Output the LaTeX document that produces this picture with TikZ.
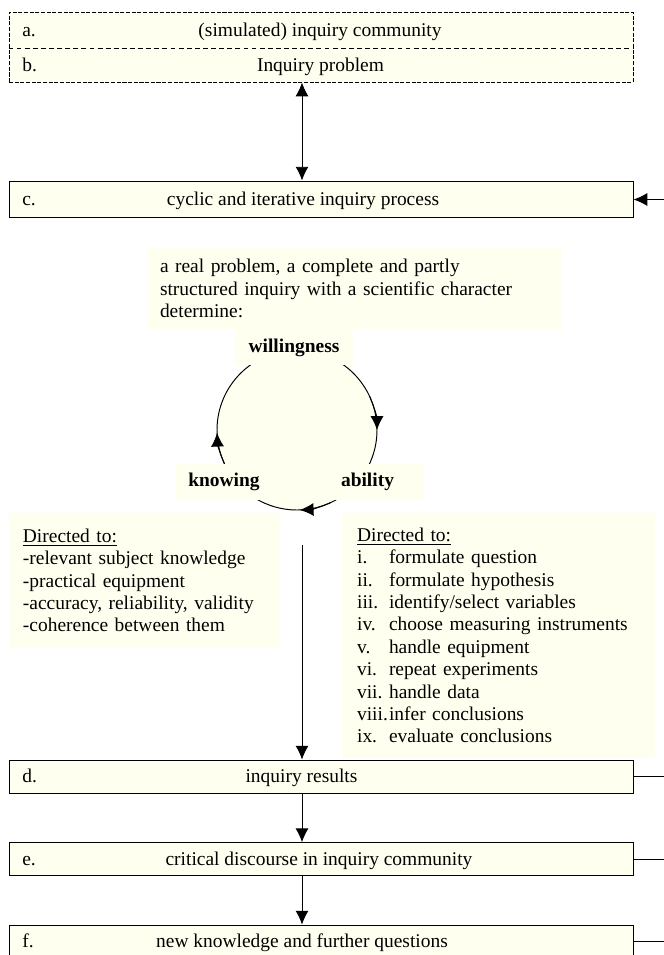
\documentclass[tikz,border=0pt]{standalone}
\usepackage{fontspec}
\setmainfont{Liberation Serif}
\usetikzlibrary{arrows.meta}
\definecolor{ivory}{RGB}{255,255,240}
\newcommand{\diagfont}{\fontsize{12pt}{13.8pt}\selectfont}
\newcommand{\rnum}[1]{\makebox[19.7pt][l]{#1}}

\begin{document}
\begin{tikzpicture}[
        x=0.617pt, y=-0.617pt,
        every node/.style={font=\diagfont},
        stagebox/.style={rectangle, draw=black, fill=ivory, line width=0.6pt, minimum width=385pt, minimum height=20.5pt, inner sep=0pt},
        steplabel/.style={anchor=base west, inner sep=0pt},
        steptext/.style={anchor=base, inner sep=0pt},
        notebox/.style={rectangle, fill=ivory, align=left, inner ysep=0pt},
        keyword/.style={rectangle, fill=ivory, inner sep=0pt, font=\diagfont\bfseries, minimum height=22.2pt},
        flowarrow/.style={line width=0.6pt, -{Latex[length=8.5pt,width=8pt]}},
        twoway/.style={line width=0.6pt, {Latex[length=8.5pt,width=8pt]}-{Latex[length=8.5pt,width=8pt]}},
    ]
        \useasboundingbox (0,0) rectangle (664,955);

        %Cycle
        \coordinate (loopmid) at (297,430);
        \draw[line width=0.6pt, fill=ivory] (loopmid) circle[radius=80];
        \draw[flowarrow] (loopmid) ++(-25:80) arc[start angle=-25, end angle=0, radius=80];
        \draw[flowarrow] (loopmid) ++(65:80) arc[start angle=65, end angle=88, radius=80];
        \draw[flowarrow] (loopmid) ++(155:80) arc[start angle=155, end angle=178, radius=80];

        %Nodes
        \node[stagebox, minimum height=43.2pt, dash pattern=on 2.5pt off 1pt] (problem) at (321,47) {};
        \coordinate (split) at (0,48.7);
        \node[steplabel] (aLabel) at (22,36.5) {a.};
        \node[steptext] (aText) at (320,36.5) {(simulated) inquiry community};
        \node[steplabel] (bLabel) at (22,71) {b.};
        \node[steptext] (bText) at (320.5,71) {Inquiry problem};

        \node[stagebox, minimum height=22.8pt] (process) at (321,199.5) {};
        \node[steplabel] (cLabel) at (22,205.5) {c.};
        \node[steptext] (cText) at (303,205.5) {cyclic and iterative inquiry process};

        \node[notebox, text width=240pt, inner xsep=7.4pt, minimum height=50pt] (condition) at (354.5,288.5)
            {a real problem, a complete and partly\\structured inquiry with a scientific character\\determine:};

        \node[keyword, minimum width=72.8pt] (willing) at (294,347.5) {willingness};
        \node[keyword, minimum width=59.2pt] (knowing) at (224,482) {knowing};
        \node[keyword, minimum width=69.7pt] (ability) at (367.5,482) {ability};

        \node[notebox, text width=150pt, inner xsep=8.6pt, minimum height=83.3pt] (knowList) at (144.5,580.5)
            {\underline{Directed to:}\\
             -relevant subject knowledge\\
             -practical equipment\\
             -accuracy, reliability, validity\\
             -coherence between them};
        \node[notebox, text width=174.5pt, inner xsep=9.3pt, minimum height=151.2pt] (skillList) at (498.5,635.5)
            {\underline{Directed to:}\\
             \rnum{i.}formulate question\\
             \rnum{ii.}formulate hypothesis\\
             \rnum{iii.}identify/select variables\\
             \rnum{iv.}choose measuring instruments\\
             \rnum{v.}handle equipment\\
             \rnum{vi.}repeat experiments\\
             \rnum{vii.}handle data\\
             \rnum{viii.}infer conclusions\\
             \rnum{ix.}evaluate conclusions};

        \node[stagebox] (results) at (321,776.7) {};
        \node[steplabel] (dLabel) at (22,782.7) {d.};
        \node[steptext] (dText) at (301.5,782.7) {inquiry results};

        \node[stagebox] (discourse) at (321,859.3) {};
        \node[steplabel] (eLabel) at (22,865.3) {e.};
        \node[steptext] (eText) at (319,865.3) {critical discourse in inquiry community};

        \node[stagebox] (knowledge) at (321,941.7) {};
        \node[steplabel] (fLabel) at (22,947.7) {f.};
        \node[steptext] (fText) at (302,947.7) {new knowledge and further questions};

        \coordinate (flowtop) at (302,545);
        \coordinate (feedback) at (664,199.5);
        \coordinate (rim) at (664,0);

        %Lines
        \draw[line width=0.6pt, dash pattern=on 3pt off 2pt] (problem.west |- split) -- (problem.east |- split);
        \draw[twoway] (problem.south -| flowtop) -- (process.north -| flowtop);
        \draw[flowarrow] (feedback) -- (process.east);

        \draw[flowarrow] (flowtop) -- (results.north -| flowtop);
        \draw[flowarrow] (results.south -| flowtop) -- (discourse.north -| flowtop);
        \draw[flowarrow] (discourse.south -| flowtop) -- (knowledge.north -| flowtop);

        \draw[line width=0.6pt] (results.east) -- (results.east -| rim);
        \draw[line width=0.6pt] (discourse.east) -- (discourse.east -| rim);
        \draw[line width=0.6pt] (knowledge.east) -- (knowledge.east -| rim);
    \end{tikzpicture}
\end{document}
